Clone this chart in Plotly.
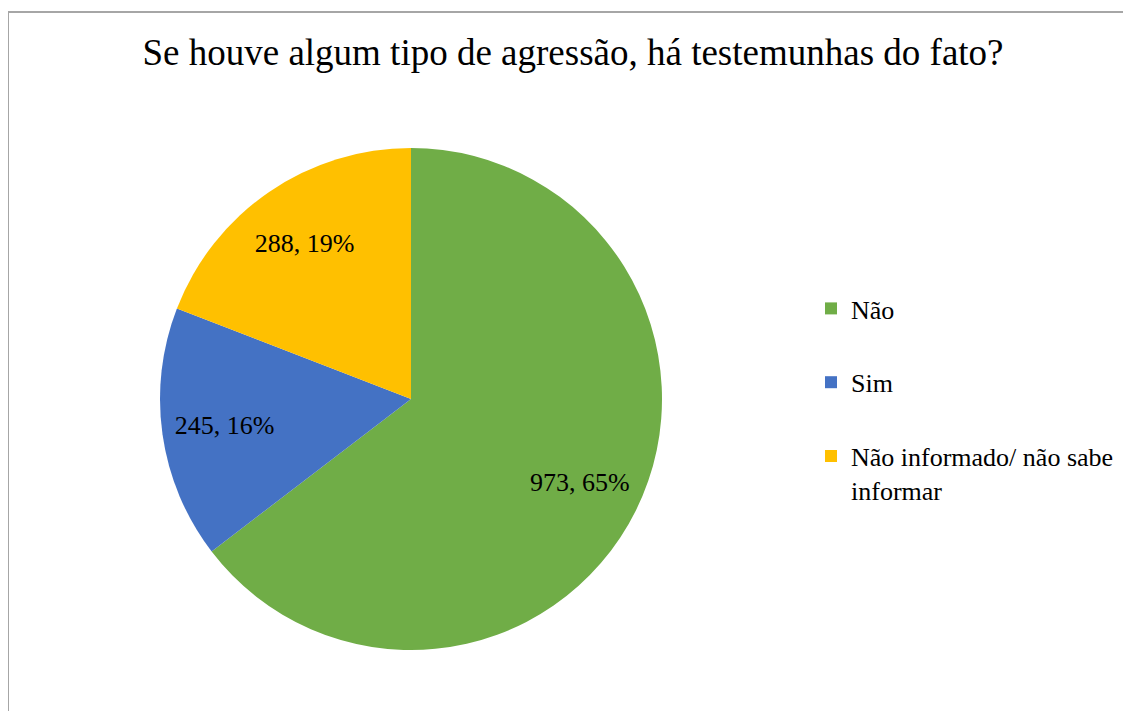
import plotly.graph_objects as go

categories = ["Não", "Sim", "Não informado/ não sabe informar"]
legend_labels = ["Não", "Sim", "Não informado/ não sabe<br>informar"]
values = [973, 245, 288]
colors = ["#70AD47", "#4472C4", "#FFC000"]
title_text = "Se houve algum tipo de agressão, há testemunhas do fato?"

W, H = 1123, 703
OFF = 8  # page body margin
FONT = "Liberation Serif"


def px(x):
    return (x - OFF) / W


def py(y):
    return 1 - (y - OFF) / H


dom = dict(x=[px(160), px(662)], y=[py(650), py(148)])

fig = go.Figure()
fig.add_trace(go.Pie(
    labels=categories,
    values=values,
    marker=dict(colors=colors, line=dict(width=0)),
    sort=False,
    direction="clockwise",
    rotation=0,
    textinfo="none",
    showlegend=False,
    domain=dom,
))
# text layer: transparent ring so labels sit at ~3/4 radius
fig.add_trace(go.Pie(
    labels=categories,
    values=values,
    marker=dict(colors=["rgba(0,0,0,0)"] * 3, line=dict(width=0)),
    sort=False,
    direction="clockwise",
    rotation=0,
    hole=0.5,
    texttemplate="%{value}, %{percent:.0%}",
    textposition="inside",
    insidetextorientation="horizontal",
    textfont=dict(family=FONT, size=26, color="black"),
    hoverinfo="skip",
    showlegend=False,
    domain=dom,
))

for i, (lab, col) in enumerate(zip(legend_labels, colors)):
    fig.add_trace(go.Scatter(
        x=[None], y=[None], mode="markers", name=lab,
        marker=dict(symbol="square", size=14, color=col),
        legendgroup=str(i), showlegend=True,
    ))

fig.update_layout(
    width=W, height=H,
    margin=dict(l=0, r=0, t=0, b=0),
    paper_bgcolor="white", plot_bgcolor="white",
    title=dict(text=title_text, x=px(573), xanchor="center", y=py(52), yanchor="middle",
               font=dict(family=FONT, size=37, color="black")),
    xaxis=dict(visible=False), yaxis=dict(visible=False),
    legend=dict(x=px(811), xanchor="left", y=py(285), yanchor="top",
                font=dict(family=FONT, size=26, color="black"),
                tracegroupgap=37, valign="top", itemsizing="constant",
                bgcolor="rgba(0,0,0,0)"),
    shapes=[dict(type="rect", xref="paper", yref="paper",
                 x0=px(8), x1=1.05, y0=-0.05, y1=py(12),
                 line=dict(color="#A6A6A6", width=2), fillcolor="rgba(0,0,0,0)")],
)

fig.write_html("out.html")
